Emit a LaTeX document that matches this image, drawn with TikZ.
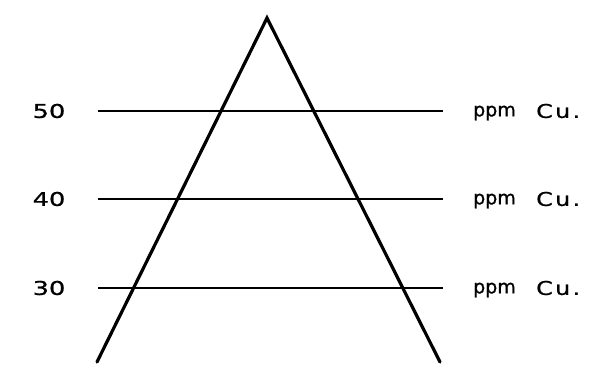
\documentclass[tikz,border=0pt]{standalone}
\usepackage{fontspec}
\setmainfont{DejaVu Sans}[FakeBold=0.8]
\newfontfamily\labfont{DejaVu Sans}[FakeBold=0.8,LetterSpace=10]
\begin{document}
\begin{tikzpicture}[x=1pt,y=-1pt,
  side/.style={line width=3.2pt,line cap=round,line join=miter},
  level/.style={line width=1.4pt},
  num/.style={font=\fontsize{19}{22}\selectfont,inner sep=0pt},
  unit/.style={font=\fontsize{19}{22}\selectfont,inner sep=0pt,anchor=west},
  elem/.style={font=\labfont\fontsize{19}{22}\selectfont,inner sep=0pt,anchor=west}]
\useasboundingbox (0,0) rectangle (596,380);
\coordinate (apex) at (267,18);
\coordinate (bl) at (97,362);
\coordinate (br) at (440,362);
\draw[side] (bl) -- (apex) -- (br);
\foreach \v/\y in {50/111,40/199,30/288}{
  \coordinate (l\v) at (98,\y);
  \coordinate (r\v) at (443,\y);
  \draw[level] (l\v) -- (r\v);
  \node[num] (n\v) at (49,\y) {\scalebox{1.35}[1]{\v}};
  \node[unit] (p\v) at (473,\y+2) {ppm};
  \node[elem] (c\v) at (536,\y) {\scalebox{1.25}[1]{Cu.}};
}
\end{tikzpicture}
\end{document}
